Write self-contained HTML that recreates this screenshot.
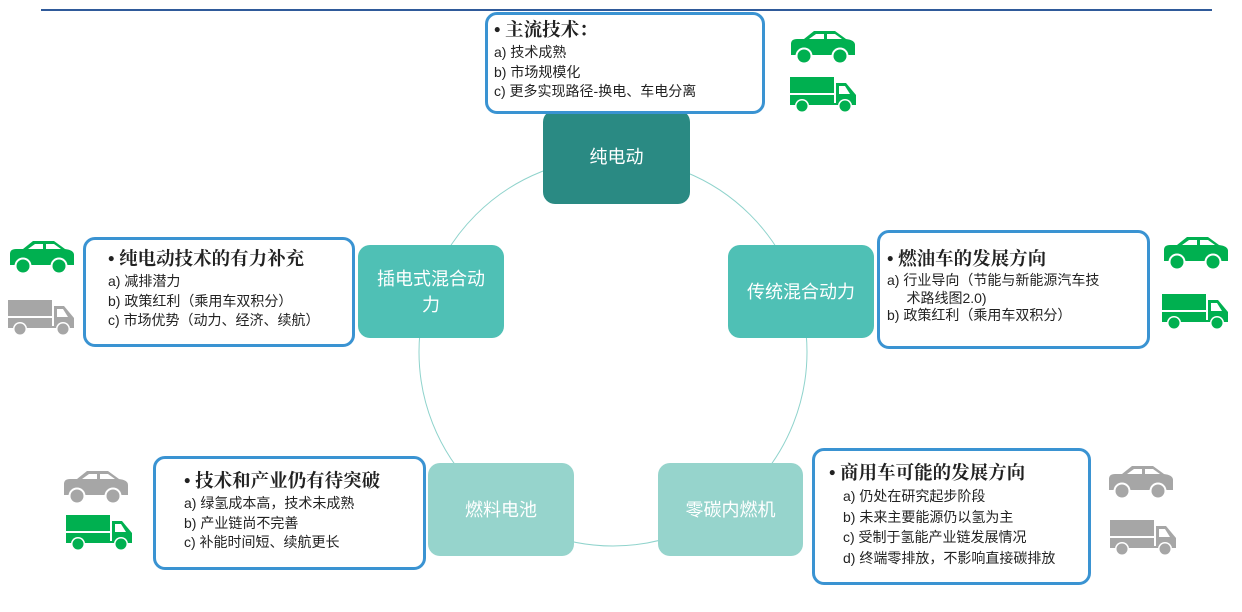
<!DOCTYPE html>
<html><head><meta charset="utf-8">
<style>
body{margin:0;width:1242px;height:612px;background:#fff;position:relative;overflow:hidden;font-family:"Liberation Sans","Noto Sans CJK SC",sans-serif;}
.a{position:absolute;}
.box{position:absolute;border:3px solid #3a93d2;border-radius:12px;background:#fff;box-sizing:border-box;color:#222;}
.box .t{font-weight:bold;font-size:18.5px;line-height:23px;font-family:"Liberation Serif","Noto Serif CJK SC",serif;}
.box .i{font-size:14px;line-height:19.5px;}
.node{position:absolute;border-radius:12px;color:#fff;font-size:18px;display:flex;align-items:center;justify-content:center;text-align:center;line-height:26px;}
</style></head><body>
<div class="a" style="left:41px;top:9px;width:1171px;height:2px;background:#2f5a9a"></div>
<svg class="a" style="left:0;top:0" width="1242" height="612"><circle cx="613" cy="352" r="194" fill="none" stroke="#8fd3cc" stroke-width="1"/></svg>

<div class="node" style="left:543px;top:110px;width:147px;height:94px;background:#2a8a83">纯电动</div>
<div class="node" style="left:358px;top:245px;width:146px;height:93px;background:#4fc0b5;padding:0 12px;box-sizing:border-box">插电式混合动力</div>
<div class="node" style="left:728px;top:245px;width:146px;height:93px;background:#4fc0b5">传统混合动力</div>
<div class="node" style="left:428px;top:463px;width:146px;height:93px;background:#96d4cc">燃料电池</div>
<div class="node" style="left:658px;top:463px;width:145px;height:93px;background:#96d4cc">零碳内燃机</div>

<div class="box" style="left:485px;top:12px;width:280px;height:102px;padding:5px 0 0 6px">
<div class="t">• 主流技术：</div>
<div class="i">a) 技术成熟<br>b) 市场规模化<br>c) 更多实现路径-换电、车电分离</div></div>

<div class="box" style="left:83px;top:237px;width:272px;height:110px;padding:9px 0 0 22px">
<div class="t">• 纯电动技术的有力补充</div>
<div class="i">a) 减排潜力<br>b) 政策红利（乘用车双积分）<br>c) 市场优势（动力、经济、续航）</div></div>

<div class="box" style="left:877px;top:230px;width:273px;height:119px;padding:16px 0 0 7px">
<div class="t">• 燃油车的发展方向</div>
<div class="i" style="line-height:17.5px">a) 行业导向（节能与新能源汽车技<br>&nbsp;&nbsp;&nbsp;&nbsp;&nbsp;术路线图2.0)<br>b) 政策红利（乘用车双积分）</div></div>

<div class="box" style="left:153px;top:456px;width:273px;height:114px;padding:12px 0 0 28px">
<div class="t">• 技术和产业仍有待突破</div>
<div class="i">a) 绿氢成本高，技术未成熟<br>b) 产业链尚不完善<br>c) 补能时间短、续航更长</div></div>

<div class="box" style="left:812px;top:448px;width:279px;height:137px;padding:12px 0 0 14px">
<div class="t">• 商用车可能的发展方向</div>
<div class="i" style="padding-left:14px;line-height:20.5px">a) 仍处在研究起步阶段<br>b) 未来主要能源仍以氢为主<br>c) 受制于氢能产业链发展情况<br>d) 终端零排放，不影响直接碳排放</div></div>

<svg width="0" height="0" style="position:absolute"><defs>
<g id="car"><path d="M2 14 Q2 9 8 9 L15 9 L25 1 L46 1 L57 9 Q66 10 66 15 L66 25 L2 25 Z"/><path d="M27 4 L35 4 L35 9 L20 9 Z M38 4 L46 4 L53 9 L38 9 Z" fill="#fff"/><circle cx="15" cy="26" r="8.5" fill="#fff"/><circle cx="15" cy="26" r="6.5"/><circle cx="51" cy="26" r="8.5" fill="#fff"/><circle cx="51" cy="26" r="6.5"/></g>
<g id="truck"><rect x="0" y="0" width="44" height="26"/><rect x="0" y="16" width="44" height="2" fill="#fff"/><path d="M46 6 L56 6 L66 18 L66 28 L46 28 Z"/><path d="M49 9 L55 9 L60 17 L49 17 Z" fill="#fff"/><rect x="0" y="26" width="46" height="2"/><circle cx="12" cy="29" r="7" fill="#fff"/><circle cx="12" cy="29" r="5.5"/><circle cx="55" cy="29" r="7" fill="#fff"/><circle cx="55" cy="29" r="5.5"/></g>
</defs></svg>
<svg class="a" style="left:789px;top:30px" width="67" height="36" fill="#00b050"><use href="#car"/></svg>
<svg class="a" style="left:790px;top:77px" width="67" height="37" fill="#00b050"><use href="#truck"/></svg>
<svg class="a" style="left:8px;top:240px" width="67" height="36" fill="#00b050"><use href="#car"/></svg>
<svg class="a" style="left:8px;top:300px" width="67" height="37" fill="#a6a6a6"><use href="#truck"/></svg>
<svg class="a" style="left:1162px;top:236px" width="67" height="36" fill="#00b050"><use href="#car"/></svg>
<svg class="a" style="left:1162px;top:294px" width="67" height="37" fill="#00b050"><use href="#truck"/></svg>
<svg class="a" style="left:62px;top:470px" width="67" height="36" fill="#a6a6a6"><use href="#car"/></svg>
<svg class="a" style="left:66px;top:515px" width="67" height="37" fill="#00b050"><use href="#truck"/></svg>
<svg class="a" style="left:1107px;top:465px" width="67" height="36" fill="#a6a6a6"><use href="#car"/></svg>
<svg class="a" style="left:1110px;top:520px" width="67" height="37" fill="#a6a6a6"><use href="#truck"/></svg>
</body></html>
